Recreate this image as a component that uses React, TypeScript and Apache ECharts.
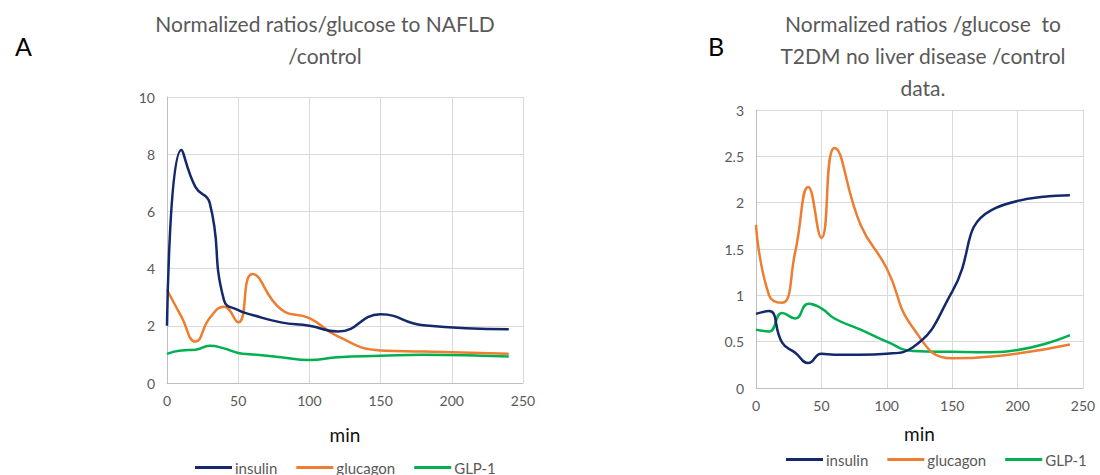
import React, { useEffect, useRef } from "react";
import * as echarts from "echarts";

const minutes = [0, 10, 20, 30, 40, 50, 60, 80, 100, 120, 150, 180, 240];

const insulinA = [2.0, 8.15, 6.85, 6.3, 2.9, 2.55, 2.38, 2.12, 2.0, 1.8, 2.4, 2.02, 1.88];
const glucagonA = [3.26, 2.33, 1.45, 2.27, 2.67, 2.12, 3.81, 2.58, 2.27, 1.63, 1.14, 1.1, 1.02];
const glp1A = [1.02, 1.14, 1.16, 1.3, 1.21, 1.05, 1.0, 0.9, 0.8, 0.9, 0.95, 0.99, 0.93];

const insulinB = [0.8, 0.83, 0.49, 0.38, 0.27, 0.37, 0.36, 0.36, 0.37, 0.44, 1.04, 1.92, 2.08];
const glucagonB = [1.76, 1.0, 0.92, 1.47, 2.17, 1.62, 2.59, 1.76, 1.29, 0.65, 0.32, 0.34, 0.47];
const glp1B = [0.63, 0.61, 0.81, 0.75, 0.91, 0.86, 0.75, 0.63, 0.5, 0.4, 0.39, 0.385, 0.57];

const seriesNames = ["insulin", "glucagon", "GLP-1"];
const seriesColors = ["#13296B", "#ED7D31", "#00B050"];

const titleA = "Normalized ratios/glucose to NAFLD\n/control";
const titleB = "Normalized ratios /glucose  to\nT2DM no liver disease /control\ndata.";

const FONT = "Lato, 'Open Sans', sans-serif";
const GRAY = "#595959";

function pairs(values: number[]) {
  return minutes.map((m, i) => [m, values[i]]);
}

export default function App() {
  const ref = useRef<HTMLDivElement>(null);
  useEffect(() => {
    if (!ref.current) return;
    const chart = echarts.init(ref.current, undefined, { renderer: "svg" });
    const xAxisBase = (gridIndex: number, nameGap: number) => ({
      type: "value" as const,
      gridIndex,
      min: 0,
      max: 250,
      interval: 50,
      name: "min",
      nameLocation: "middle" as const,
      nameGap,
      nameTextStyle: { fontSize: 19, color: "#111", fontFamily: FONT },
      axisLine: { show: true, lineStyle: { color: "#BFBFBF", width: 1 } },
      axisTick: { show: false },
      axisLabel: { color: GRAY, fontSize: 14, fontFamily: FONT, margin: 10 },
      splitLine: { show: true, lineStyle: { color: "#D9D9D9", width: 1 } },
    });
    const yAxisBase = (gridIndex: number, max: number, interval: number) => ({
      type: "value" as const,
      gridIndex,
      min: 0,
      max,
      interval,
      axisLine: { show: true, lineStyle: { color: "#BFBFBF", width: 1 } },
      axisTick: { show: false },
      axisLabel: { color: GRAY, fontSize: 14, fontFamily: FONT, margin: 12 },
      splitLine: { show: true, lineStyle: { color: "#D9D9D9", width: 1 } },
    });
    const dataA = [insulinA, glucagonA, glp1A];
    const dataB = [insulinB, glucagonB, glp1B];
    const mk = (values: number[], idx: number, axis: number) => ({
      type: "line" as const,
      name: seriesNames[idx],
      xAxisIndex: axis,
      yAxisIndex: axis,
      data: pairs(values),
      smooth: 0.5,
      symbol: "none",
      lineStyle: { color: seriesColors[idx], width: 2.5 },
      itemStyle: { color: seriesColors[idx] },
      z: 3 - idx,
    });
    const legendBase = {
      data: seriesNames,
      icon: "rect",
      itemWidth: 37,
      itemHeight: 3,
      itemGap: 19,
      textStyle: { color: GRAY, fontSize: 15, fontFamily: FONT, padding: [0, 0, 0, -2] },
      orient: "horizontal" as const,
    };
    chart.setOption({
      animation: false,
      textStyle: { fontFamily: FONT },
      title: [
        {
          text: titleA,
          left: 320,
          top: 2,
          textAlign: "center",
          textStyle: { fontSize: 21, lineHeight: 32, color: GRAY, fontWeight: "normal", fontFamily: FONT },
        },
        {
          text: titleB,
          left: 918,
          top: 2,
          textAlign: "center",
          textStyle: { fontSize: 21, lineHeight: 32, color: GRAY, fontWeight: "normal", fontFamily: FONT },
        },
        {
          text: "A",
          left: 10,
          top: 28,
          textStyle: { fontSize: 25, color: "#000", fontWeight: "normal", fontFamily: FONT },
        },
        {
          text: "B",
          left: 703,
          top: 28,
          textStyle: { fontSize: 25, color: "#000", fontWeight: "normal", fontFamily: FONT },
        },
      ],
      legend: [
        { ...legendBase, left: 190, top: 455 },
        { ...legendBase, left: 781, top: 447 },
      ],
      grid: [
        { left: 167, top: 97, width: 356, height: 286 },
        { left: 756, top: 110, width: 327, height: 278 },
      ],
      xAxis: [xAxisBase(0, 42), xAxisBase(1, 36)],
      yAxis: [yAxisBase(0, 10, 2), yAxisBase(1, 3, 0.5)],
      series: [
        ...dataA.map((v, i) => mk(v, i, 0)),
        ...dataB.map((v, i) => mk(v, i, 1)),
      ],
    });
    return () => chart.dispose();
  }, []);
  return (
    <div
      ref={ref}
      style={{ position: "fixed", left: 0, top: 0, width: 1100, height: 475, background: "#fff" }}
    />
  );
}
